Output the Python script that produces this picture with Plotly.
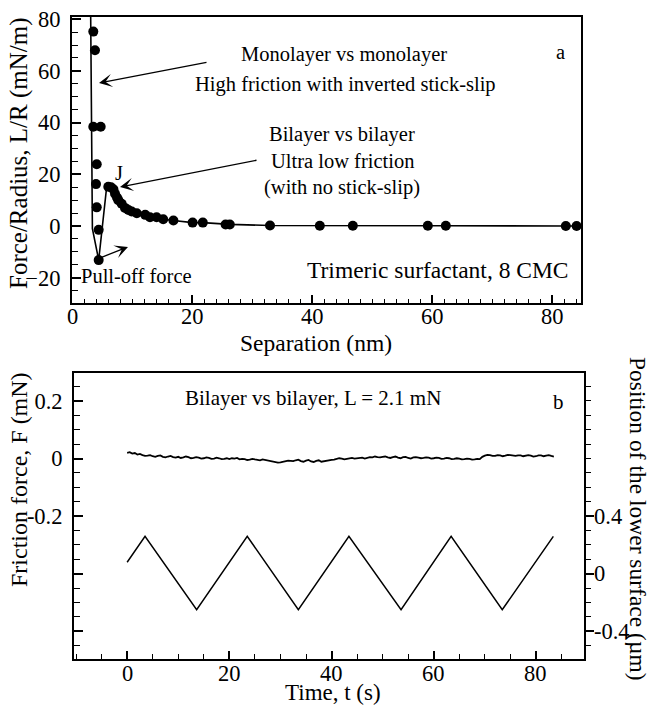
import plotly.graph_objects as go

# ---------------- data: panel a (force vs separation) ----------------
sep_pts = [3.55, 3.83, 3.55, 4.78, 4.12, 4.0, 4.12, 4.45, 4.45,
           6.05, 6.5, 6.9, 7.17, 7.5, 7.72, 8.28, 8.83, 9.4, 9.95, 10.8,
           12.2, 13.0, 14.1, 15.2, 16.9, 20.1, 21.8, 25.6, 26.3, 33.0,
           41.3, 46.8, 59.3, 62.3, 82.3, 84.1]
force_pts = [75.2, 68.0, 38.4, 38.4, 23.9, 16.2, 7.2, -1.5, -13.2,
             15.2, 15.0, 14.2, 12.5, 11.0, 10.0, 8.6, 7.0, 6.2, 5.6, 4.9,
             4.3, 3.4, 3.4, 2.6, 2.1, 1.3, 1.3, 0.6, 0.6, 0.2,
             0.1, 0.1, 0.1, 0.1, 0.0, 0.0]
sep_line = [3.1, 3.4, 4.45, 5.8, 6.05, 6.5, 7.17, 7.72, 8.28, 8.83, 9.95, 10.8,
            12.2, 13.0, 14.1, 15.2, 16.9, 20.1, 21.8, 25.6, 26.3, 33.0,
            41.3, 46.8, 59.3, 62.3, 82.3, 86.0]
force_line = [85.0, -1.0, -13.2, 15.6, 15.2, 14.6, 12.5, 10.0, 8.6, 7.0, 5.6, 4.9,
              4.3, 3.4, 3.4, 2.6, 2.1, 1.3, 1.3, 0.6, 0.6, 0.2,
              0.1, 0.1, 0.1, 0.1, 0.0, 0.0]

# ---------------- data: panel b (friction and position vs time) ----------------
# friction trace read every 0.5 s from 0 to 83.5 s
friction = [0.020, 0.022, 0.017, 0.019, 0.014, 0.016, 0.012, 0.009, 0.010, 0.012,
            0.008, 0.006, 0.009, 0.011, 0.006, 0.004, 0.007, 0.009, 0.005, 0.003, 0.006,
            0.002, 0.004, 0.007, 0.005, 0.001, 0.002, 0.005, 0.003, 0.000, 0.001,
            0.004, 0.002, -0.001, 0.000, 0.003, 0.001, -0.002, -0.001, 0.001, -0.002,
            0.001, 0.000, 0.002, -0.003, -0.001, -0.002, -0.005, -0.004, -0.001, -0.003,
            -0.005, -0.006, -0.003, -0.005, -0.007, -0.008, -0.010, -0.011, -0.014, -0.013,
            -0.011, -0.010, -0.007, -0.008, -0.009, -0.006, -0.004, -0.009, -0.011, -0.007,
            -0.005, -0.010, -0.012, -0.008, -0.006, -0.011, -0.009, -0.008, -0.006, -0.005,
            -0.004, -0.002, 0.001, 0.000, -0.003, -0.001, 0.001, 0.002, 0.000, 0.001,
            0.004, 0.003, 0.000, 0.002, 0.005, 0.004, 0.007, 0.005, 0.004, 0.006,
            0.007, 0.004, 0.002, 0.005, 0.007, 0.003, 0.001, 0.005, 0.006, 0.002,
            0.000, 0.004, 0.005, 0.003, 0.001, 0.002, 0.004, 0.003, 0.000, 0.001,
            0.003, 0.002, -0.001, 0.000, 0.002, 0.001, -0.002, -0.001, 0.001, 0.000,
            -0.003, -0.002, 0.000, -0.001, -0.004, -0.003, -0.001, -0.002, 0.006, 0.010,
            0.013, 0.012, 0.009, 0.009, 0.012, 0.011, 0.008, 0.010, 0.013, 0.012,
            0.010, 0.009, 0.011, 0.011, 0.008, 0.010, 0.012, 0.010, 0.007, 0.008,
            0.011, 0.011, 0.008, 0.010, 0.012, 0.009, 0.007]
time_f = [0.5 * i for i in range(len(friction))]
time_pos = [0.0, 3.5, 13.6, 23.5, 33.5, 43.4, 53.6, 63.4, 73.4, 83.4]
position = [0.08, 0.26, -0.25, 0.26, -0.25, 0.26, -0.25, 0.26, -0.25, 0.26]

top_xticks = [0, 10, 20, 30, 40, 50, 60, 70, 80]
top_xtext = ['0', '', '20', '', '40', '', '60', '', '80']
top_yticks = [-20, 0, 20, 40, 60, 80]
bot_xticks = [0, 20, 40, 60, 80]
bot_xtext = ['0', '20', '40', '60', '80']
left_yticks = [-0.6, -0.4, -0.2, 0, 0.2]
left_ytext = ['', '', '-0.2', '0', '0.2']
right_yticks = [-0.4, 0, 0.4, 0.8, 1.2]
right_ytext = ['-0.4', '0', '0.4', '', '']

W, H = 650, 705
FONT = "Liberation Serif"
TICK_SIZE = 22.5


def px(x):
    return x / W


def py(y):
    return 1 - y / H


fig = go.Figure()
fig.add_trace(go.Scatter(x=sep_line, y=force_line, mode='lines',
                         line=dict(color='black', width=1.6), xaxis='x', yaxis='y',
                         showlegend=False))
fig.add_trace(go.Scatter(x=sep_pts, y=force_pts, mode='markers',
                         marker=dict(color='black', size=10), xaxis='x', yaxis='y',
                         cliponaxis=False, showlegend=False))
fig.add_trace(go.Scatter(x=time_f, y=friction, mode='lines',
                         line=dict(color='black', width=1.8), xaxis='x2', yaxis='y2',
                         showlegend=False))
fig.add_trace(go.Scatter(x=time_pos, y=position, mode='lines',
                         line=dict(color='black', width=1.5), xaxis='x2', yaxis='y3',
                         showlegend=False))

tickfont = dict(family=FONT, size=TICK_SIZE, color='black')
common = dict(showline=True, linecolor='black', linewidth=2, showgrid=False,
              zeroline=False, tickcolor='black', tickwidth=1.5, tickfont=tickfont,
              automargin=False)

fig.update_layout(
    width=W, height=H, margin=dict(l=0, r=0, t=0, b=0),
    paper_bgcolor='white', plot_bgcolor='white', showlegend=False,
    xaxis=dict(domain=[px(72), px(581)], range=[0, 84.83], anchor='y',
               tickmode='array', tickvals=top_xticks, ticktext=top_xtext,
               showticklabels=False,
               ticks='inside', ticklen=8, mirror=True,
               minor=dict(dtick=2, tick0=0, ticks='inside', ticklen=4,
                          tickcolor='black', tickwidth=1.2), **common),
    yaxis=dict(domain=[py(303), py(17)], range=[-29.8, 80.85], anchor='x',
               tickmode='array', tickvals=top_yticks,
               ticks='inside', ticklen=9, mirror=True, ticklabelstandoff=5,
               minor=dict(dtick=5, tick0=0, ticks='inside', ticklen=6,
                          tickcolor='black', tickwidth=1.2), **common),
    xaxis2=dict(domain=[px(74), px(584)], range=[-10.4, 89.4], anchor='y2',
                tickmode='array', tickvals=bot_xticks, ticktext=bot_xtext,
                showticklabels=False,
                ticks='inside', ticklen=8, mirror=True,
                minor=dict(dtick=5, tick0=0, ticks='inside', ticklen=5,
                           tickcolor='black', tickwidth=1.2), **common),
    yaxis2=dict(domain=[py(659), py(373)], range=[-0.696, 0.297], anchor='x2',
                tickmode='array', tickvals=left_yticks, ticktext=left_ytext,
                ticks='inside', ticklen=9, mirror=False, ticklabelstandoff=5,
                minor=dict(dtick=0.05, tick0=0, ticks='inside', ticklen=6,
                           tickcolor='black', tickwidth=1.2), **common),
    yaxis3=dict(range=[-0.592, 1.394], overlaying='y2', side='right', anchor='x2',
                tickmode='array', tickvals=right_yticks, ticktext=right_ytext,
                showticklabels=False,
                ticks='outside', ticklen=8,
                minor=dict(dtick=0.1, tick0=0, ticks='outside', ticklen=5,
                           tickcolor='black', tickwidth=1.2), **common),
)

ann = []
tfont = dict(family=FONT, size=TICK_SIZE, color='black')


def text(s, x, y, size=20.5, xanchor='center', angle=0):
    ann.append(dict(text=s, x=px(x), y=py(y), xref='paper', yref='paper',
                    xanchor=xanchor, yanchor='middle', showarrow=False,
                    textangle=angle, font=dict(family=FONT, size=size, color='black')))


# x tick labels placed just under each axis (at the tick values)
for v, t in zip(top_xticks, top_xtext):
    if t:
        ann.append(dict(text=t, x=v, y=py(316), xref='x', yref='paper',
                        xanchor='center', yanchor='middle', showarrow=False, font=tfont))
for v, t in zip(bot_xticks, bot_xtext):
    ann.append(dict(text=t, x=v, y=py(673), xref='x2', yref='paper',
                    xanchor='center', yanchor='middle', showarrow=False, font=tfont))
# right-axis tick labels, next to the outside ticks
for v, t in zip(right_yticks, right_ytext):
    if t:
        ann.append(dict(text=t, x=px(592), y=v, xref='paper', yref='y3',
                        xanchor='left', yanchor='middle', showarrow=False, font=tfont))

# panel a texts
text("Monolayer vs monolayer", 344, 54)
text("High friction with inverted stick-slip", 345, 85)
text("a", 560, 52)
text("Bilayer vs bilayer", 342, 134)
text("Ultra low friction", 342, 161)
text("(with no stick-slip)", 342, 188)
text("J", 119, 173)
text("Pull-off force", 79, 276, xanchor='left')
text("Trimeric surfactant, 8 CMC", 571, 270, size=23.5, xanchor='right')
text("Force/Radius, L/R (mN/m)", 19, 153, size=25, angle=-90)
text("Separation (nm)", 316, 343, size=23.5)

# panel b texts
text("Bilayer vs bilayer, L = 2.1 mN", 183, 398, size=21, xanchor='left')
text("b", 558, 402, size=21)
text("Friction force, F (mN)", 19, 480, size=24, angle=-90)
text("Position of the lower surface (\u00b5m)", 638, 519, size=23.5, angle=90)
text("Time, t (s)", 333, 692, size=23)

# arrows (heads at data positions, tails as pixel offsets)
arrow = dict(showarrow=True, arrowhead=3, arrowsize=1.7, arrowwidth=1.3,
             arrowcolor='black', text='', xref='x', yref='y')
ann.append(dict(x=4.5, y=55.3, ax=109, ay=-21, **arrow))
ann.append(dict(x=8.0, y=15.1, ax=138, ay=-27, **arrow))
ann.append(dict(x=9.33, y=-8.1, ax=-28, ay=11, **arrow))

fig.update_layout(annotations=ann)
fig.write_html("out.html")
